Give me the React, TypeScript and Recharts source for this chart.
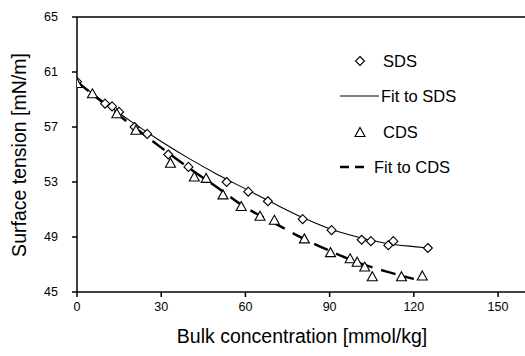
import * as React from "react";
import { ComposedChart, Line, Scatter, XAxis, YAxis, CartesianGrid } from "recharts";

const sdsX = [0, 10, 12.5, 15, 20.5, 25, 32.5, 39.7, 53.3, 61, 68, 80.4, 90.7, 101.4, 104.7, 110.9, 112.7, 125];
const sdsY = [60.3, 58.7, 58.5, 58.1, 57.0, 56.5, 55.0, 54.1, 53.0, 52.3, 51.6, 50.3, 49.5, 48.8, 48.7, 48.4, 48.7, 48.2];

const cdsX = [0, 5.5, 14.2, 21, 33.3, 41.8, 46, 52, 58.5, 65.2, 70.3, 81, 90.3, 97.3, 99.8, 102.5, 105.2, 115.6, 123];
const cdsY = [60.2, 59.45, 58.0, 56.8, 54.4, 53.4, 53.3, 52.1, 51.25, 50.55, 50.25, 48.9, 47.9, 47.45, 47.2, 46.85, 46.15, 46.15, 46.2];

// fitted curves, sampled from the drawn lines
const fitSdsX = [0, 10, 20, 30, 40, 50, 60, 70, 80, 90, 100, 110, 120, 125];
const fitSdsY = [60.3, 58.75, 57.3, 55.95, 54.7, 53.55, 52.5, 51.45, 50.45, 49.6, 49.0, 48.55, 48.3, 48.2];

const fitCdsX = [0, 10, 20, 30, 40, 50, 60, 70, 80, 90, 100, 110, 120];
const fitCdsY = [60.3, 58.65, 57.05, 55.5, 54.0, 52.6, 51.15, 50.05, 48.95, 48.0, 47.15, 46.5, 45.95];

const xTicks = [0, 30, 60, 90, 120, 150];
const yTicks = [45, 49, 53, 57, 61, 65];

const toPts = (xs: number[], ys: number[]) => xs.map((x, i) => ({ x, y: ys[i] }));

const sds = toPts(sdsX, sdsY);
const cds = toPts(cdsX, cdsY);
const fitSds = toPts(fitSdsX, fitSdsY);
const fitCds = toPts(fitCdsX, fitCdsY);

const FONT = "'Liberation Sans', Arial, sans-serif";

const Diamond = (p: any) => {
  const { cx, cy } = p;
  const r = 4.5;
  return (
    <path
      d={`M${cx},${cy - r}L${cx + r},${cy}L${cx},${cy + r}L${cx - r},${cy}Z`}
      fill="#fff"
      stroke="#000"
      strokeWidth={1.1}
    />
  );
};

const Triangle = (p: any) => {
  const { cx, cy } = p;
  return (
    <path
      d={`M${cx},${cy - 4.5}L${cx + 5},${cy + 4.5}L${cx - 5},${cy + 4.5}Z`}
      fill="#fff"
      stroke="#000"
      strokeWidth={1.1}
    />
  );
};

// legend lives in its own small box on the right of the plot
const LegendBox = () => (
  <svg
    width={150}
    height={130}
    style={{ position: "absolute", left: 335, top: 45, pointerEvents: "none" }}
  >
    <g fontFamily={FONT} fontSize={16.5} fill="#000">
      <Diamond cx={25} cy={16} />
      <text x={48} y={16} dominantBaseline="central">SDS</text>

      <line x1={5} y1={51} x2={44} y2={51} stroke="#000" strokeWidth={1.1} />
      <text x={46} y={51} dominantBaseline="central">Fit to SDS</text>

      <Triangle cx={25} cy={87} />
      <text x={48} y={87} dominantBaseline="central">CDS</text>

      <line x1={5} y1={122} x2={35} y2={122} stroke="#000" strokeWidth={2.5} strokeDasharray="9 6" />
      <text x={39} y={122} dominantBaseline="central">Fit to CDS</text>
    </g>
  </svg>
);

const titleStyle: React.CSSProperties = {
  position: "absolute",
  whiteSpace: "nowrap",
  fontSize: 19.5,
  lineHeight: 1,
  color: "#000",
  fontFamily: FONT,
};

export default function App() {
  return (
    <div
      style={{
        position: "absolute",
        left: 0,
        top: 0,
        width: 525,
        height: 356,
        background: "#fff",
        fontFamily: FONT,
      }}
    >
      <ComposedChart
        width={525}
        height={356}
        margin={{ top: 17, right: 0, bottom: 0, left: 0 }}
        accessibilityLayer={false}
      >
        {/* top frame edge only */}
        <CartesianGrid vertical={false} horizontalValues={[65]} stroke="#000" strokeWidth={1.5} />
        <XAxis
          type="number"
          dataKey="x"
          domain={[0, 159.6]}
          ticks={xTicks}
          allowDataOverflow
          stroke="#000"
          strokeWidth={1.5}
          tickSize={5}
          tickMargin={5}
          height={64}
          tick={{ fill: "#000", fontSize: 12.5, fontFamily: FONT }}
        />
        <YAxis
          type="number"
          dataKey="y"
          domain={[45, 65]}
          ticks={yTicks}
          allowDataOverflow
          stroke="#000"
          strokeWidth={1.5}
          tickSize={5}
          tickMargin={14}
          width={77}
          tick={{ fill: "#000", fontSize: 12.5, fontFamily: FONT }}
        />
        <Line
          data={fitSds}
          dataKey="y"
          type="monotone"
          stroke="#000"
          strokeWidth={1.1}
          dot={false}
          activeDot={false}
          isAnimationActive={false}
        />
        <Scatter data={sds} dataKey="y" shape={Diamond} isAnimationActive={false} />
        <Scatter data={cds} dataKey="y" shape={Triangle} isAnimationActive={false} />
        <Line
          data={fitCds}
          dataKey="y"
          type="monotone"
          stroke="#000"
          strokeWidth={2.5}
          strokeDasharray="15 9"
          dot={false}
          activeDot={false}
          isAnimationActive={false}
        />
      </ComposedChart>
      <div style={{ ...titleStyle, left: 302, top: 337, transform: "translate(-50%, -50%)" }}>
        Bulk concentration [mmol/kg]
      </div>
      <div style={{ ...titleStyle, left: 20, top: 155, transform: "translate(-50%, -50%) rotate(-90deg)" }}>
        Surface tension [mN/m]
      </div>
      <LegendBox />
    </div>
  );
}
